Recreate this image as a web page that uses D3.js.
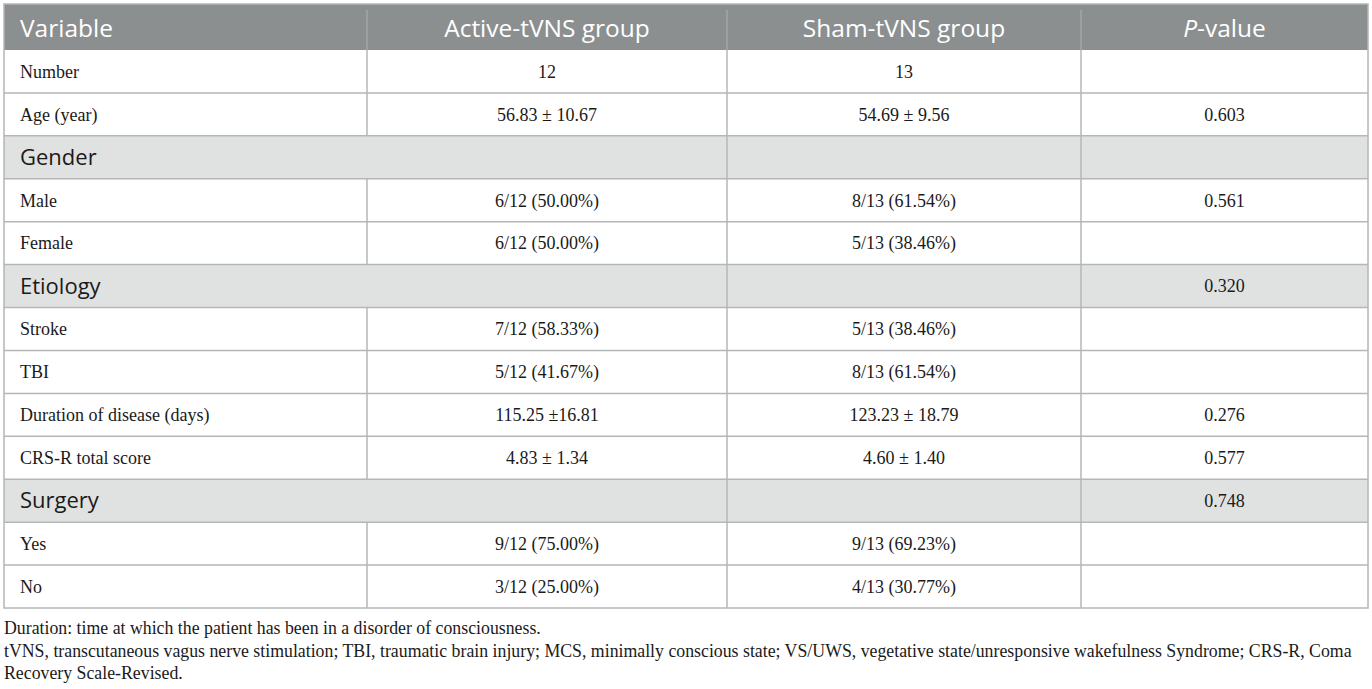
<!DOCTYPE html>
<html>
<head>
<meta charset="utf-8">
<script src="https://cdn.jsdelivr.net/npm/d3@7"></script>
<style>
  body { margin: 0; background: #fff; }
  svg { display: block; }
  .serif { font-family: "Liberation Serif", "DejaVu Serif", serif; }
  .sans { font-family: "Open Sans", "Noto Sans", sans-serif; }
</style>
</head>
<body>
<div id="table-wrapper"></div>
<script>
// table content
const headers = ["Variable", "Active-tVNS group", "Sham-tVNS group", "P-value"];
const variables = ["Number", "Age (year)", "Gender", "Male", "Female", "Etiology", "Stroke", "TBI",
  "Duration of disease (days)", "CRS-R total score", "Surgery", "Yes", "No"];
const isSection = [false, false, true, false, false, true, false, false, false, false, true, false, false];
const activeVals = ["12", "56.83 \u00b1 10.67", "", "6/12 (50.00%)", "6/12 (50.00%)", "", "7/12 (58.33%)",
  "5/12 (41.67%)", "115.25 \u00b116.81", "4.83 \u00b1 1.34", "", "9/12 (75.00%)", "3/12 (25.00%)"];
const shamVals = ["13", "54.69 \u00b1 9.56", "", "8/13 (61.54%)", "5/13 (38.46%)", "", "5/13 (38.46%)",
  "8/13 (61.54%)", "123.23 \u00b1 18.79", "4.60 \u00b1 1.40", "", "9/13 (69.23%)", "4/13 (30.77%)"];
const pValues = ["", "0.603", "", "0.561", "", "0.320", "", "", "0.276", "0.577", "0.748", "", ""];
const footnotes = [
  "Duration: time at which the patient has been in a disorder of consciousness.",
  "tVNS, transcutaneous vagus nerve stimulation; TBI, traumatic brain injury; MCS, minimally conscious state; VS/UWS, vegetative state/unresponsive wakefulness Syndrome; CRS-R, Coma",
  "Recovery Scale-Revised."
];

const W = 1372, H = 689;
const colEdges = [4, 367, 727, 1081, 1368];
const headTop = 4, headBottom = 50, tableBottom = 608;
const lineColor = "#b4b7b7";

const rows = variables.map((v, i) => ({
  i, variable: v, section: isSection[i],
  cells: [activeVals[i], shamVals[i], pValues[i]]
}));

const y = d3.scaleBand()
  .domain(rows.map(d => d.i))
  .range([headBottom, tableBottom]);

const svg = d3.select("#table-wrapper")
  .append("svg")
  .attr("width", W)
  .attr("height", H);

// header
svg.append("rect")
  .attr("x", colEdges[0]).attr("y", headTop)
  .attr("width", colEdges[4] - colEdges[0]).attr("height", headBottom - headTop)
  .attr("fill", "#8b8f90");

const headText = svg.selectAll(".head")
  .data(headers)
  .join("text")
  .attr("class", "head sans")
    .attr("x", (d, i) => i === 0 ? 20 : (colEdges[i] + colEdges[i + 1]) / 2)
    .attr("y", (headTop + headBottom) / 2 + 1)
    .attr("dy", "0.36em")
    .attr("text-anchor", (d, i) => i === 0 ? "start" : "middle")
    .attr("fill", "#fff")
    .style("font-size", "24.5px");
headText.each(function(d) {
  const t = d3.select(this);
  if (d.startsWith("P-")) {
    t.append("tspan").style("font-style", "italic").text("P");
    t.append("tspan").text(d.slice(1));
  } else {
    t.text(d);
  }
});

// row backgrounds
const rowG = svg.selectAll(".row")
  .data(rows)
  .join("g")
  .classed("row", true)
  .attr("transform", d => `translate(0, ${y(d.i)})`);

rowG.append("rect")
  .attr("x", colEdges[0])
  .attr("width", colEdges[4] - colEdges[0])
  .attr("height", y.bandwidth())
  .attr("fill", d => d.section ? "#e0e2e1" : "#fff");

rowG.append("text")
  .attr("class", d => d.section ? "sans" : "serif")
  .attr("x", 20)
  .attr("y", y.bandwidth() / 2)
  .attr("dy", "0.35em")
  .attr("fill", "#1a1a1a")
  .style("font-size", d => d.section ? "22px" : "18px")
  .text(d => d.variable);

rowG.selectAll(".val")
  .data(d => d.cells.map((c, k) => ({c, k})))
  .join("text")
  .attr("class", "val serif")
    .attr("x", d => (colEdges[d.k + 1] + colEdges[d.k + 2]) / 2)
    .attr("y", y.bandwidth() / 2)
    .attr("dy", "0.35em")
    .attr("text-anchor", "middle")
    .attr("fill", "#1a1a1a")
    .style("font-size", "18px")
    .text(d => d.c);

// horizontal lines
svg.selectAll(".hline")
  .data(rows.slice(1).map(d => y(d.i)))
  .join("line")
  .classed("hline", true)
    .attr("x1", colEdges[0]).attr("x2", colEdges[4])
    .attr("y1", d => d).attr("y2", d => d)
    .attr("stroke", lineColor).attr("stroke-width", 1.5);

// vertical lines (first one is hidden where a section label spans two columns)
rows.forEach(d => {
  [1, 2, 3].forEach(k => {
    if (k === 1 && d.section) return;
    svg.append("line")
      .attr("x1", colEdges[k]).attr("x2", colEdges[k])
      .attr("y1", y(d.i)).attr("y2", y(d.i) + y.bandwidth())
      .attr("stroke", lineColor).attr("stroke-width", 1.5);
  });
});
[1, 2, 3].forEach(k => {
  svg.append("line")
    .attr("x1", colEdges[k]).attr("x2", colEdges[k])
    .attr("y1", headTop + 6).attr("y2", headBottom)
    .attr("stroke", "#a3a6a7").attr("stroke-width", 1.5);
});

// outer border
svg.append("rect")
  .attr("x", colEdges[0]).attr("y", headTop)
  .attr("width", colEdges[4] - colEdges[0]).attr("height", tableBottom - headTop)
  .attr("fill", "none")
  .attr("stroke", lineColor).attr("stroke-width", 1.5);

// footnotes
svg.selectAll(".foot")
  .data(footnotes)
  .join("text")
  .attr("class", "foot serif")
    .attr("x", 4)
    .attr("y", (d, i) => 634 + i * 22.5)
    .attr("fill", "#1a1a1a")
    .style("font-size", "17.8px")
    .text(d => d);
</script>
</body>
</html>
